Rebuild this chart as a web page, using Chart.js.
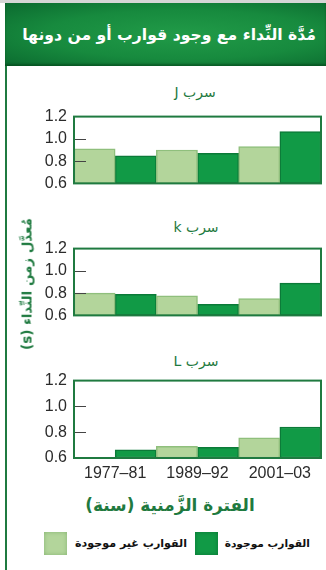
<!DOCTYPE html>
<html lang="ar">
<head>
<meta charset="utf-8">
<script src="https://cdn.jsdelivr.net/npm/chart.js@4"></script>
<style>
  html, body { margin: 0; padding: 0; background: #fff; }
  #wrap { position: relative; width: 326px; height: 570px; overflow: hidden; background: #fff; }
  #topline { position: absolute; left: 0; top: 0; width: 326px; height: 3px; background: #d6d6d6; }
  #header { position: absolute; left: 5px; top: 3px; width: 321px; height: 63px;
    background: radial-gradient(ellipse at 55% 50%, #219b48 0%, #178a3e 55%, #0b6a2f 100%);
    box-shadow: inset 0 -2px 2px rgba(0,60,20,0.5); }
  #title { position: absolute; right: 10px; top: 31px; color: #fff; font: bold 16px "DejaVu Sans", sans-serif; direction: rtl; white-space: nowrap; transform: translateY(-50%); }
  #leftline { position: absolute; left: 5px; top: 66px; width: 2px; height: 504px; background: #1f7a40; }
  canvas.c { position: absolute; left: 0; }
  .sub { position: absolute; direction: rtl; color: #1f7a40; font: 14px "DejaVu Sans", sans-serif; white-space: nowrap; transform: translate(-50%, -50%); }
  #ytitle { position: absolute; left: 27px; top: 284px; direction: rtl; color: #1f7a40; font: bold 12px "DejaVu Sans", sans-serif; white-space: nowrap; transform: translate(-50%, -50%) rotate(-90deg); }
  #xtitle { position: absolute; left: 170px; top: 505px; direction: rtl; color: #1f7a40; font: bold 13px "DejaVu Sans", sans-serif; white-space: nowrap; transform: translate(-50%, -50%); }
  .sw { position: absolute; top: 532px; width: 23px; height: 23px; }
  .lg { position: absolute; top: 543px; direction: rtl; color: #111; font: bold 11px "DejaVu Sans", sans-serif; white-space: nowrap; transform: translateY(-50%); }
</style>
</head>
<body>
<div id="wrap">
  <div id="topline"></div>
  <div id="header"><div id="title" data-w="294">مُدَّة النِّداء مع وجود قوارب أو من دونها</div></div>
  <div id="leftline"></div>

  <div class="sub" style="left:195px; top:92px;">سرب J</div>
  <div class="sub" style="left:196px; top:227px;">سرب k</div>
  <div class="sub" style="left:196px; top:361px;">سرب L</div>

  <canvas class="c" id="cJ" width="326" height="100" style="top:100px; width:326px; height:100px;"></canvas>
  <canvas class="c" id="cK" width="326" height="100" style="top:232px; width:326px; height:100px;"></canvas>
  <canvas class="c" id="cL" width="326" height="120" style="top:364px; width:326px; height:120px;"></canvas>

  <div id="ytitle" data-w="132">مُعدَّل زمن النِّداء (s)</div>
  <div id="xtitle" data-w="170">الفترة الزَّمنية (سنة)</div>

  <div class="sw" style="left:44px; background:#b3d59b; box-shadow: inset 0 0 4px #86b573;"></div>
  <div class="lg" data-w="112" style="right:139px;">القوارب غير موجودة</div>
  <div class="sw" style="left:195px; background:#119a46; box-shadow: inset 0 0 4px #0a7535;"></div>
  <div class="lg" data-w="85" style="right:16px;">القوارب موجودة</div>
</div>

<script>
// ---- data ----
const periods = ["1977–81", "1989–92", "2001–03"];
const seriesNames = ["القوارب غير موجودة", "القوارب موجودة"];
const flockJ_noBoats = [0.91, 0.90, 0.93];
const flockJ_boats   = [0.847, 0.87, 1.065];
const flockK_noBoats = [0.80, 0.775, 0.75];
const flockK_boats   = [0.79, 0.70, 0.89];
const flockL_noBoats = [0.60, 0.69, 0.756];
const flockL_boats   = [0.663, 0.683, 0.84];
const yTicks = [0.6, 0.8, 1.0, 1.2];

const lightFill = "#b3d59b";
const lightEdge = "#8fbf7c";
const darkFill = "#119a46";
const darkEdge = "#0b7a38";

// fit HTML text blocks to their measured widths in the reference
document.querySelectorAll("[data-w]").forEach(el => {
  const target = parseFloat(el.dataset.w);
  const fs = parseFloat(getComputedStyle(el).fontSize);
  const w = el.offsetWidth;
  if (w > 0) el.style.fontSize = (fs * target / w).toFixed(2) + "px";
});

const frameAndTicks = {
  id: "frameAndTicks",
  afterDatasetsDraw(chart) {
    const { ctx, chartArea: a } = chart;
    const y = chart.scales.y;
    ctx.save();
    ctx.strokeStyle = "#444";
    ctx.lineWidth = 1;
    [0.8, 1.0].forEach(v => {
      const py = Math.round(y.getPixelForValue(v)) + 0.5;
      ctx.beginPath();
      ctx.moveTo(a.left, py);
      ctx.lineTo(a.left + 12, py);
      ctx.stroke();
    });
    ctx.strokeStyle = "#1f7a40";
    ctx.lineWidth = 2;
    ctx.strokeRect(a.left, a.top, a.right - a.left, a.bottom - a.top);
    ctx.restore();
  }
};

function makeChart(id, noBoats, boats, showX, padBottom) {
  return new Chart(document.getElementById(id), {
    type: "bar",
    data: {
      labels: periods,
      datasets: [
        { label: seriesNames[0], data: noBoats, backgroundColor: lightFill, borderColor: lightEdge, borderWidth: 1.5, borderSkipped: false },
        { label: seriesNames[1], data: boats, backgroundColor: darkFill, borderColor: darkEdge, borderWidth: 1.5, borderSkipped: false }
      ]
    },
    options: {
      responsive: false,
      animation: false,
      devicePixelRatio: 1,
      layout: { padding: { top: 13, right: 5, bottom: padBottom, left: 0 } },
      plugins: { legend: { display: false }, tooltip: { enabled: false }, title: { display: false } },
      datasets: { bar: { categoryPercentage: 1.0, barPercentage: 1.0, base: 0.6 } },
      scales: {
        x: {
          display: showX,
          grid: { display: false, drawTicks: false },
          border: { display: false },
          ticks: { color: "#2b2b2b", font: { family: "Liberation Sans", size: 16 }, padding: 6, maxRotation: 0 },
          afterFit(s) { if (showX) s.height = 26; }
        },
        y: {
          min: 0.6, max: 1.2,
          afterBuildTicks(s) { s.ticks = yTicks.map(v => ({ value: v })); },
          grid: { display: false, drawTicks: false },
          border: { display: false },
          ticks: { color: "#2b2b2b", font: { family: "Liberation Sans", size: 16 }, padding: 7,
                   callback: v => Number(v).toFixed(1) },
          afterFit(s) { s.width = 74; }
        }
      }
    },
    plugins: [frameAndTicks]
  });
}

makeChart("cJ", flockJ_noBoats, flockJ_boats, false, 6);
makeChart("cK", flockK_noBoats, flockK_boats, false, 5);
makeChart("cL", flockL_noBoats, flockL_boats, true, 0);
</script>
</body>
</html>
